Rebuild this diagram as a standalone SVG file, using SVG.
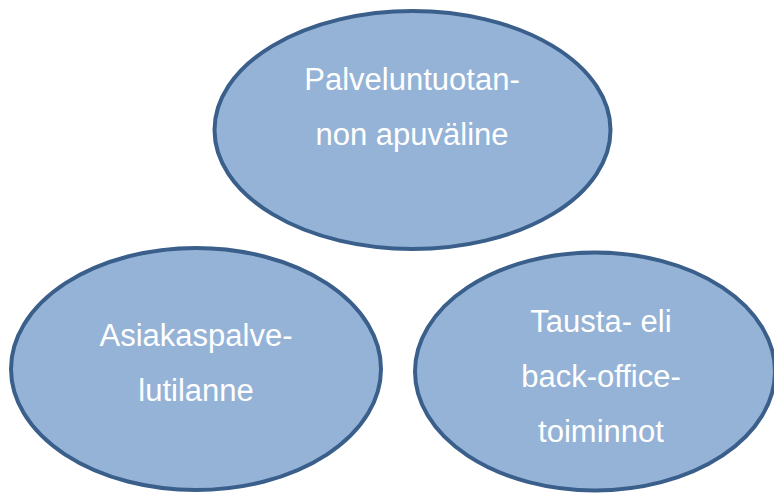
<svg xmlns="http://www.w3.org/2000/svg" width="774" height="493" viewBox="0 0 774 493">
<style>
.n{fill:#95B3D7;stroke:#3A5F8B;stroke-width:4}
.t{font-family:"Liberation Sans",Arial,sans-serif;font-size:31px;fill:#ffffff;text-anchor:middle}
</style>
<rect width="774" height="493" fill="#ffffff"/>
<g id="connectors"></g>
<g id="node-top">
<ellipse class="n" cx="412.5" cy="130" rx="198" ry="119"/>
<text class="t" x="412" y="90">Palveluntuotan-</text>
<text class="t" x="412" y="145">non apuväline</text>
</g>
<g id="node-left">
<ellipse class="n" cx="196" cy="369" rx="185" ry="121"/>
<text class="t" x="196" y="346">Asiakaspalve-</text>
<text class="t" x="196" y="401">lutilanne</text>
</g>
<g id="node-right">
<ellipse class="n" cx="595" cy="371.5" rx="180" ry="119"/>
<text class="t" x="601" y="332">Tausta- eli</text>
<text class="t" x="601" y="387">back-office-</text>
<text class="t" x="601" y="442">toiminnot</text>
</g>
</svg>
